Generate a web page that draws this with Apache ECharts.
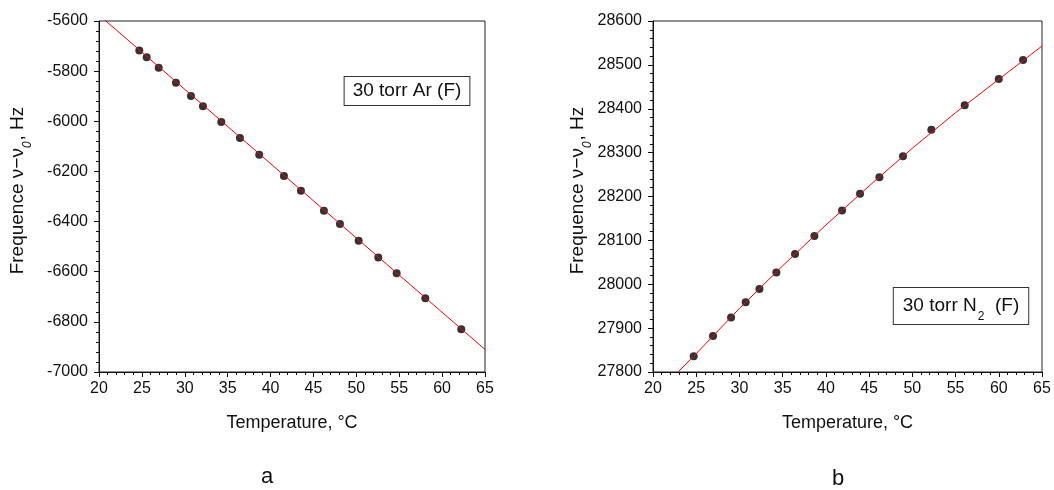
<!DOCTYPE html>
<html>
<head>
<meta charset="utf-8">
<script src="https://cdn.jsdelivr.net/npm/echarts@6/dist/echarts.min.js"></script>
<style>
  html, body { margin: 0; padding: 0; background: #fff; }
  #chart { width: 1054px; height: 490px; }
</style>
</head>
<body>
<div id="chart"></div>
<script>
// ---- data ----
const xTicks = [20, 25, 30, 35, 40, 45, 50, 55, 60, 65];
const yTicksA = [-7000, -6800, -6600, -6400, -6200, -6000, -5800, -5600];
const yTicksB = [27800, 27900, 28000, 28100, 28200, 28300, 28400, 28500, 28600];

const tempA = [24.70, 25.56, 26.96, 28.97, 30.72, 32.12, 34.26, 36.43, 38.68, 41.56, 43.54, 46.22, 48.09, 50.27, 52.56, 54.70, 58.04, 62.23];
const freqA = [-5718, -5745, -5786, -5846, -5899, -5940, -6003, -6067, -6133, -6218, -6277, -6357, -6410, -6476, -6543, -6606, -6706, -6829];

const tempB = [24.71, 26.94, 29.03, 30.72, 32.31, 34.27, 36.43, 38.67, 41.87, 43.95, 46.19, 48.92, 52.20, 56.06, 60.00, 62.81];
const freqB = [27836, 27882, 27924, 27959, 27989, 28027, 28069, 28110, 28168, 28206, 28244, 28292, 28352, 28408, 28468, 28511];

// red fit lines
const fitTempA = [20, 65];
const fitFreqA = [-5576, -6910];
const fitTempB = [22.9, 25, 30, 35, 40, 45, 50, 55, 60, 65];
const fitFreqB = [27800, 27842, 27945, 28042, 28135, 28224, 28310, 28391, 28467, 28543];

const labelA = '30 torr Ar (F)';
const labelB = ['30 torr N', '2', '  (F)'];
const panelNames = ['a', 'b'];
const xName = 'Temperature, \u00B0C';

// ---- chart ----
const FONT = "'Liberation Sans', Arial, sans-serif";
const zip = (xs, ys) => xs.map((x, i) => [x, ys[i]]);
const plain = v => String(v);

function xAxisFor(gridIndex) {
  return {
    type: 'value', gridIndex,
    min: xTicks[0], max: xTicks[xTicks.length - 1], interval: xTicks[1] - xTicks[0],
    name: xName, nameLocation: 'middle', nameGap: 42,
    nameTextStyle: { fontFamily: FONT, fontSize: 18, color: '#111' },
    axisLine: { show: true, onZero: false, lineStyle: { color: '#111', width: 1 } },
    axisTick: { show: true, inside: false, length: 5, lineStyle: { color: '#111' } },
    minorTick: { show: true, splitNumber: 5, length: 3, lineStyle: { color: '#111' } },
    axisLabel: { fontFamily: FONT, fontSize: 16, color: '#111', margin: 9, formatter: plain },
    splitLine: { show: false }
  };
}
const yNameRich = {
  sub: { fontFamily: FONT, fontSize: 12, fontStyle: 'italic', color: '#111', verticalAlign: 'top', padding: [15, 1, 0, 0], lineHeight: 12 }
};
function yAxisFor(gridIndex, ticks, gap) {
  return {
    type: 'value', gridIndex,
    min: ticks[0], max: ticks[ticks.length - 1], interval: ticks[1] - ticks[0],
    name: 'Frequence \u03BD\u2212\u03BD{sub|0}, Hz', nameLocation: 'middle', nameGap: gap,
    nameTextStyle: { fontFamily: FONT, fontSize: 19, color: '#111', lineHeight: 22, padding: [0, 0, 0, 12], rich: yNameRich },
    axisLine: { show: true, onZero: false, lineStyle: { color: '#111', width: 1 } },
    axisTick: { show: true, inside: false, length: 5, lineStyle: { color: '#111' } },
    minorTick: { show: true, splitNumber: 5, length: 3, lineStyle: { color: '#111' } },
    axisLabel: { fontFamily: FONT, fontSize: 16, color: '#111', margin: 11, formatter: plain },
    splitLine: { show: false }
  };
}

const chart = echarts.init(document.getElementById('chart'), null, { renderer: 'canvas' });
chart.setOption({
  backgroundColor: '#fff',
  animation: false,
  grid: [
    { left: 99, top: 21, width: 386, height: 351, show: true, borderColor: '#222', borderWidth: 1, backgroundColor: 'transparent' },
    { left: 653, top: 21, width: 389, height: 351, show: true, borderColor: '#222', borderWidth: 1, backgroundColor: 'transparent' }
  ],
  xAxis: [xAxisFor(0), xAxisFor(1)],
  yAxis: [yAxisFor(0, yTicksA, 70), yAxisFor(1, yTicksB, 48)],
  series: [
    { type: 'scatter', xAxisIndex: 0, yAxisIndex: 0, data: zip(tempA, freqA), symbol: 'circle', symbolSize: 8,
      itemStyle: { color: '#000' }, z: 2 },
    { type: 'line', xAxisIndex: 0, yAxisIndex: 0, data: zip(fitTempA, fitFreqA), showSymbol: false, clip: true,
      lineStyle: { color: '#ff0000', width: 1 }, z: 3 },
    { type: 'scatter', xAxisIndex: 1, yAxisIndex: 1, data: zip(tempB, freqB), symbol: 'circle', symbolSize: 8,
      itemStyle: { color: '#000' }, z: 2 },
    { type: 'line', xAxisIndex: 1, yAxisIndex: 1, data: zip(fitTempB, fitFreqB), showSymbol: false, clip: true,
      lineStyle: { color: '#ff0000', width: 1 }, z: 3 }
  ],
  graphic: [
    { type: 'text', x: 407, y: 91, z: 10,
      style: { text: labelA, fontFamily: FONT, fontSize: 19, fill: '#111', align: 'center', verticalAlign: 'middle',
        lineHeight: 22, padding: [3, 8, 3, 8], borderColor: '#333', borderWidth: 1, backgroundColor: '#fff' } },
    { type: 'text', x: 961, y: 306, z: 10,
      style: { text: labelB[0] + '{sub|' + labelB[1] + '}' + labelB[2], fontFamily: FONT, fontSize: 19, fill: '#111',
        align: 'center', verticalAlign: 'middle', lineHeight: 24,
        padding: [6, 9, 6, 9], borderColor: '#333', borderWidth: 1, backgroundColor: '#fff',
        rich: { sub: { fontFamily: FONT, fontSize: 12, fill: '#111', verticalAlign: 'top', lineHeight: 12, padding: [17, 0, 0, 1] } } } },
    { type: 'text', x: 267, y: 477, style: { text: panelNames[0], fontFamily: FONT, fontSize: 22, fill: '#111', align: 'center', verticalAlign: 'middle' } },
    { type: 'text', x: 838, y: 479, style: { text: panelNames[1], fontFamily: FONT, fontSize: 22, fill: '#111', align: 'center', verticalAlign: 'middle' } }
  ]
});
</script>
</body>
</html>
